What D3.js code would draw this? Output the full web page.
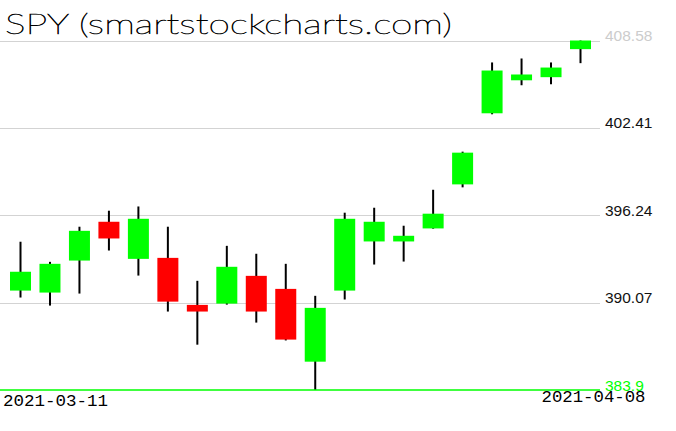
<!DOCTYPE html>
<html>
<head>
<meta charset="utf-8">
<script src="https://cdn.jsdelivr.net/npm/d3@7/dist/d3.min.js"></script>
<style>
  html, body { margin: 0; padding: 0; background: #fff; }
  svg { display: block; }
</style>
</head>
<body>
<svg id="chart" width="676" height="431"></svg>
<script>
const title = "SPY (smartstockcharts.com)";
const dates = ["2021-03-11","2021-03-12","2021-03-15","2021-03-16","2021-03-17",
               "2021-03-18","2021-03-19","2021-03-22","2021-03-23","2021-03-24",
               "2021-03-25","2021-03-26","2021-03-29","2021-03-30","2021-03-31",
               "2021-04-01","2021-04-05","2021-04-06","2021-04-07","2021-04-08"];
const opens  = [390.92,390.78,393.04,395.78,393.16,393.23,389.91,390.00,391.96,391.04,
                385.90,390.92,394.39,394.39,395.31,398.42,403.44,405.77,405.99,407.97];
const highs  = [394.37,392.95,395.43,396.56,396.86,395.43,391.61,394.08,393.52,392.81,
                390.55,396.42,396.77,395.50,398.04,400.73,407.03,407.31,407.03,408.58];
const lows   = [390.43,389.86,390.71,393.75,391.98,389.44,387.10,389.93,388.66,387.40,
                383.90,390.29,392.76,392.97,395.29,398.21,403.37,405.42,405.49,406.98];
const closes = [392.25,392.81,395.14,394.60,395.99,390.14,389.44,392.60,389.44,387.46,
                389.70,395.99,395.78,394.79,396.35,400.66,406.46,406.18,406.67,408.58];
const priceTicks = [408.58, 402.41, 396.24, 390.07, 383.9];
const dateLabels = ["2021-03-11", "2021-04-08"];

const svg = d3.select("#chart");
const candles = dates.map((d, i) => ({date: d, o: opens[i], h: highs[i], l: lows[i], c: closes[i]}));

const y = d3.scaleLinear().domain([d3.min(lows), d3.max(highs)]).range([390, 40.5]);
const x = d3.scalePoint().domain(dates).range([20.5, 580.5]);
const bodyW = 21;

// gridlines
const gridTicks = priceTicks.slice(0, priceTicks.length - 1);
svg.append("g").selectAll("line").data(gridTicks).join("line")
  .attr("x1", 0).attr("x2", 600)
  .attr("y1", d => Math.round(y(d)) + 0.5).attr("y2", d => Math.round(y(d)) + 0.5)
  .attr("stroke", "#d3d3d3").attr("stroke-width", 1);

// wicks
svg.append("g").selectAll("line").data(candles).join("line")
  .attr("x1", d => x(d.date)).attr("x2", d => x(d.date))
  .attr("y1", d => y(d.h)).attr("y2", d => y(d.l))
  .attr("stroke", "#000").attr("stroke-width", 2);

// bodies
svg.append("g").selectAll("rect").data(candles).join("rect")
  .attr("x", d => x(d.date) - bodyW / 2)
  .attr("width", bodyW)
  .attr("y", d => y(Math.max(d.o, d.c)))
  .attr("height", d => Math.max(2, Math.abs(y(d.o) - y(d.c))))
  .attr("fill", d => d.c >= d.o ? "#00ff00" : "#ff0000");

// min line
svg.append("line")
  .attr("x1", 0).attr("x2", 600)
  .attr("y1", y(priceTicks[priceTicks.length - 1])).attr("y2", y(priceTicks[priceTicks.length - 1]))
  .attr("stroke", "#00ff00").attr("stroke-width", 1.5);

// price labels
svg.append("g").selectAll("text").data(priceTicks).join("text")
  .attr("x", 605)
  .attr("y", d => y(d) + 0.5)
  .attr("font-family", "'Liberation Sans', Arial, sans-serif")
  .attr("font-size", 15.5)
  .attr("fill", (d, i) => i === 0 ? "#cccccc" : (i === priceTicks.length - 1 ? "#00ff00" : "#111"))
  .text(d => String(d));

// date labels
svg.append("text")
  .attr("x", 3).attr("y", 406)
  .attr("font-family", "'Liberation Mono', monospace")
  .attr("font-size", 16)
  .attr("textLength", 105).attr("lengthAdjust", "spacingAndGlyphs")
  .attr("fill", "#000")
  .text(dateLabels[0]);
svg.append("text")
  .attr("x", 541.5).attr("y", 401.5)
  .attr("font-family", "'Liberation Mono', monospace")
  .attr("font-size", 16)
  .attr("textLength", 104).attr("lengthAdjust", "spacingAndGlyphs")
  .attr("fill", "#000")
  .text(dateLabels[1]);

// title
svg.append("text")
  .attr("x", 5).attr("y", 34)
  .attr("font-family", "Lato, 'Open Sans', sans-serif")
  .attr("font-weight", 100)
  .attr("font-size", 27)
  .attr("textLength", 447).attr("lengthAdjust", "spacingAndGlyphs")
  .attr("fill", "#000")
  .attr("stroke", "#000")
  .attr("stroke-width", 0.6)
  .text(title);
</script>
</body>
</html>
